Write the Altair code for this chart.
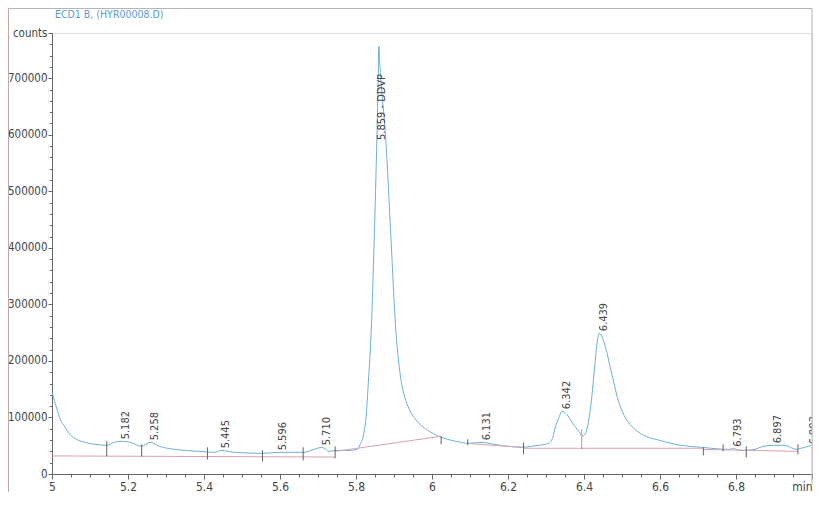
import altair as alt
import pandas as pd

TITLE = "ECD1 B, (HYR00008.D)"
FONT = "Liberation Sans Narrow, Arial Narrow, DejaVu Sans Condensed, sans-serif"

# ---- chromatogram trace (retention time in min, counts) ----
trace_time = [5.000, 5.005, 5.013, 5.021, 5.034, 5.047, 5.060, 5.087, 5.113, 5.144,
              5.163, 5.182, 5.205, 5.236, 5.258, 5.283, 5.323, 5.388, 5.428, 5.445,
              5.480, 5.554, 5.596, 5.661, 5.690, 5.710, 5.730, 5.745, 5.787, 5.803,
              5.811, 5.819, 5.827, 5.833, 5.840, 5.848, 5.855, 5.858, 5.860, 5.863,
              5.867, 5.878, 5.892, 5.905, 5.912, 5.920, 5.929, 5.940, 5.955, 5.974,
              5.997, 6.018, 6.063, 6.097, 6.131, 6.163, 6.202, 6.241, 6.260, 6.281,
              6.307, 6.318, 6.325, 6.333, 6.342, 6.354, 6.370, 6.386, 6.396, 6.404,
              6.412, 6.420, 6.428, 6.436, 6.440, 6.449, 6.459, 6.468, 6.478, 6.488,
              6.499, 6.512, 6.525, 6.543, 6.565, 6.596, 6.640, 6.709, 6.780, 6.793,
              6.810, 6.824, 6.850, 6.871, 6.898, 6.929, 6.958, 6.971, 6.990, 6.997]
trace_counts = [145000, 133000, 115000, 98000, 83000, 70000, 63000, 56000, 52500, 50700,
                56000, 57800, 56000, 48900, 56000, 48900, 43600, 40000, 38300, 41800,
                38300, 36500, 38300, 38300, 43600, 47200, 40000, 41800, 41800, 43600,
                52500, 67000, 106000, 168000, 252000, 417000, 595000, 684000, 757000, 720000,
                684000, 595000, 417000, 252000, 200000, 160000, 134000, 115000, 98000, 84500,
                73800, 66700, 57800, 54300, 56000, 52500, 48900, 47200, 48900, 50700,
                54300, 65000, 84500, 97600, 111200, 105900, 89900, 75600, 66700, 72000,
                93400, 132600, 189500, 239300, 249100, 240000, 218000, 192000, 163000, 135000,
                113000, 96000, 85000, 74000, 66000, 60000, 52500, 47200, 43600, 44800,
                42000, 41800, 43600, 48900, 50700, 50700, 43600, 45500, 48900, 50700]

# ---- integration marks (start/stop ticks) ----
tick_time = [5.144, 5.236, 5.409, 5.554, 5.661, 5.745, 6.024, 6.094, 6.241, 6.394,
             6.714, 6.766, 6.827, 6.963]
tick_top = [57800, 52500, 47200, 41800, 47200, 48900, 66700, 61400, 56000, 79200,
            47200, 52500, 48900, 52500]
tick_bottom = [31100, 31100, 25800, 22200, 24000, 27600, 52500, 50700, 34700, 43600,
               32900, 40000, 29400, 34700]
tick_kind = ["peak", "peak", "peak", "peak", "peak", "peak", "peak", "peak", "peak", "split",
             "peak", "peak", "peak", "peak"]

# ---- baselines ----
base_seg = [1, 1, 2, 2, 3, 3, 4, 4, 5, 5]
base_time = [5.000, 5.745, 5.745, 6.024, 6.094, 6.241, 6.241, 6.714, 6.714, 6.963]
base_counts = [32000, 30000, 40000, 66700, 54000, 47000, 45500, 45500, 43600, 40000]

# ---- peak labels ----
peak_label = ["5.182", "5.258", "5.445", "5.596", "5.710", "6.131", "6.342", "6.439",
              "6.793", "6.897", "6.993"]
peak_time = [5.182, 5.258, 5.445, 5.596, 5.710, 6.131, 6.342, 6.440, 6.793, 6.897, 6.993]
peak_height = [57800, 56000, 41800, 38300, 47200, 56000, 111200, 249100, 44800, 50700, 48900]

main_label = ["5.859 - DDVP"]
main_time = [5.860]
main_height = [757000]

# ---- axis ticks ----
x_major = [5.0, 5.2, 5.4, 5.6, 5.8, 6.0, 6.2, 6.4, 6.6, 6.8, 7.0]
x_minor = [round(5 + 0.05 * i, 2) for i in range(41)]
y_major = [0, 100000, 200000, 300000, 400000, 500000, 600000, 700000, 780000]
y_minor = list(range(0, 780001, 20000))

TRACE = "#6cb0d8"
AXIS = "#666666"
TEXT = "#454545"

xs = alt.Scale(domain=[5, 7], nice=False, zero=False)
ys = alt.Scale(domain=[0, 780000], nice=False, zero=False)

x_major_axis = alt.Axis(
    values=x_major, title=None, grid=False, tickSize=5, labelPadding=2,
    labelExpr="datum.value > 6.99 ? 'min' : format(datum.value, '.1~f')",
    labelFont=FONT, labelFontSize=12, labelColor=TEXT, domainColor=AXIS, tickColor=AXIS,
    labelFlush=False, labelOverlap=False, orient="bottom",
    labelAlign={"condition": {"test": "datum.value > 6.99", "value": "right"}, "value": "center"},
)
x_minor_axis = alt.Axis(values=x_minor, title=None, grid=False, tickSize=3, labels=False,
                        domain=False, tickColor=AXIS, orient="bottom")
y_major_axis = alt.Axis(
    values=y_major, title=None, grid=False, tickSize=4, labelPadding=1,
    labelExpr="datum.value >= 780000 ? 'counts' : format(datum.value, 'd')",
    labelFont=FONT, labelFontSize=11.5, labelColor=TEXT, domainColor=AXIS, tickColor=AXIS,
    labelOverlap=False, labelFlush=False, orient="left",
)
y_minor_axis = alt.Axis(values=y_minor, title=None, grid=False, tickSize=2.5, labels=False,
                        domain=False, tickColor=AXIS, orient="left")

trace_df = pd.DataFrame({"t": trace_time, "c": trace_counts})
tick_df = pd.DataFrame({"t": tick_time, "top": tick_top, "bottom": tick_bottom, "kind": tick_kind})
base_df = pd.DataFrame({"t": base_time, "c": base_counts, "seg": base_seg})
label_df = pd.DataFrame({"t": peak_time, "c": peak_height, "label": peak_label})
main_df = pd.DataFrame({"t": main_time, "c": main_height, "label": main_label})
one = pd.DataFrame({"title": [TITLE]})

trace = alt.Chart(trace_df).mark_line(color=TRACE, strokeWidth=1, interpolate="monotone", clip=True).encode(
    x=alt.X("t:Q", scale=xs, axis=x_major_axis),
    y=alt.Y("c:Q", scale=ys, axis=y_major_axis),
)

baseline = alt.Chart(base_df).mark_line(color="#d9a3ab", strokeWidth=1, clip=True).encode(
    x=alt.X("t:Q", scale=xs, axis=x_minor_axis),
    y=alt.Y("c:Q", scale=ys, axis=y_minor_axis),
    detail="seg:N",
)

ticks = alt.Chart(tick_df).mark_rule(strokeWidth=1, clip=True).encode(
    x=alt.X("t:Q", scale=xs, axis=None),
    y=alt.Y("top:Q", scale=ys, axis=None),
    y2="bottom:Q",
    color=alt.Color("kind:N", scale=alt.Scale(domain=["peak", "split"], range=["#606060", "#d08a90"]), legend=None),
)

labels = alt.Chart(label_df).mark_text(angle=270, align="left", baseline="middle", dx=2, dy=5,
                                       font=FONT, fontSize=11, color=TEXT, clip=True).encode(
    x=alt.X("t:Q", scale=xs, axis=None),
    y=alt.Y("c:Q", scale=ys, axis=None),
    text="label:N",
)

main = alt.Chart(main_df).mark_text(angle=270, align="right", baseline="middle", dx=-28, dy=3,
                                    font=FONT, fontSize=11, color=TEXT, clip=True).encode(
    x=alt.X("t:Q", scale=xs, axis=None),
    y=alt.Y("c:Q", scale=ys, axis=None),
    text="label:N",
)

title = alt.Chart(one).mark_text(align="left", baseline="middle", font=FONT, fontSize=10.5,
                                 color="#5b9bd0").encode(
    x=alt.value(3), y=alt.value(-18), text="title:N")

frame_top = alt.Chart(one).mark_rule(color="#b5b5b5", strokeWidth=1).encode(
    x=alt.value(-43.5), x2=alt.value(760), y=alt.value(-24.5))
frame_left = alt.Chart(one).mark_rule(color="#c0a8a8", strokeWidth=1).encode(
    x=alt.value(-43.5), y=alt.value(-24.5), y2=alt.value(459))
frame_right = alt.Chart(one).mark_rule(color="#b5b5b5", strokeWidth=1).encode(
    x=alt.value(760), y=alt.value(-24.5), y2=alt.value(452))

chart = alt.layer(
    trace, baseline, ticks, labels, main, title, frame_top, frame_left, frame_right
).resolve_axis(x="independent", y="independent").properties(
    width=760, height=441,
    padding={"left": 44, "top": 25, "right": 1, "bottom": 19},
    autosize=alt.AutoSizeParams(type="none"),
).configure_view(stroke=None).configure(background="white")

chart.save("out.html", embed_options={"renderer": "svg", "actions": False})
